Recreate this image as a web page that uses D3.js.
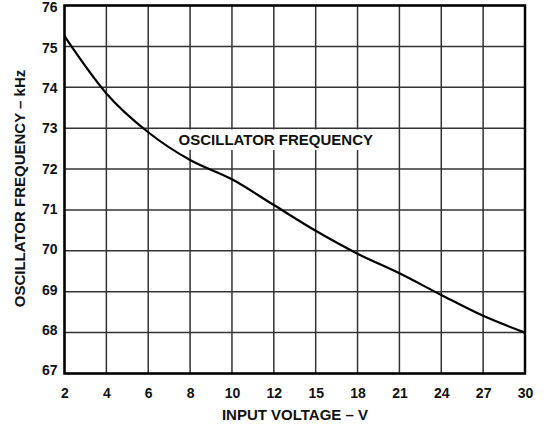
<!DOCTYPE html>
<html>
<head>
<meta charset="utf-8">
<script src="https://cdn.jsdelivr.net/npm/d3@7"></script>
<style>
  body { margin: 0; background: #fff; }
  text { font-family: "Liberation Sans", Arial, sans-serif; font-weight: bold; fill: #111; }
</style>
</head>
<body>
<script>
(function (d3) {
    "use strict";

    /***** Data *****/
    var voltages = ["2", "4", "6", "8", "10", "12", "15", "18", "21", "24", "27", "30"];
    var frequencies = [75.25, 73.85, 72.9, 72.22, 71.75, 71.12, 70.49, 69.93, 69.45, 68.92, 68.41, 68.0];
    var yTicks = [67, 68, 69, 70, 71, 72, 73, 74, 75, 76];

    /***** Configuration *****/
    var width = 547, height = 428;
    var margin = { top: 5.5, right: 22, bottom: 54.5, left: 64.5 };
    var chartWidth = width - margin.left - margin.right;
    var chartHeight = height - margin.top - margin.bottom;

    var xScale = d3.scalePoint().domain(voltages).range([0, chartWidth]);
    var yScale = d3.scaleLinear().domain([67, 76]).range([chartHeight, 0]);
    // tick labels sit slightly off the grid lines in the original
    var yLabelScale = d3.scaleLinear().domain([67, 76]).range([371.5, 8.5]);

    var svg = d3.select("body").append("svg")
        .attr("width", width)
        .attr("height", height);

    var g = svg.append("g")
        .attr("transform", "translate(" + margin.left + "," + margin.top + ")");

    /***** Grid *****/
    g.append("g")
        .selectAll("line")
        .data(voltages)
        .join("line")
        .attr("x1", function (d) { return xScale(d); })
        .attr("x2", function (d) { return xScale(d); })
        .attr("y1", 0)
        .attr("y2", chartHeight)
        .attr("stroke", "#333")
        .attr("stroke-width", 1.5);

    g.append("g")
        .selectAll("line")
        .data(yTicks)
        .join("line")
        .attr("x1", 0)
        .attr("x2", chartWidth)
        .attr("y1", function (d) { return yScale(d); })
        .attr("y2", function (d) { return yScale(d); })
        .attr("stroke", "#333")
        .attr("stroke-width", 1.5);

    /***** Tick labels *****/
    var xAxis = d3.axisBottom(xScale).tickSize(0).tickPadding(0);
    var xg = g.append("g")
        .attr("transform", "translate(0," + chartHeight + ")")
        .call(xAxis);
    xg.select(".domain").remove();
    xg.selectAll("text")
        .attr("y", 24.5)
        .attr("dy", null)
        .style("font-size", "14px")
        .style("font-family", "Liberation Sans, Arial, sans-serif")
        .style("font-weight", "bold")
        .attr("fill", "#111");

    svg.append("g")
        .selectAll("text")
        .data(yTicks)
        .join("text")
        .attr("x", 57.5)
        .attr("y", function (d) { return yLabelScale(d); })
        .attr("text-anchor", "end")
        .attr("dominant-baseline", "middle")
        .style("font-size", "14px")
        .text(function (d) { return d; });

    /***** Curve label box *****/
    g.append("rect")
        .attr("x", 110.5)
        .attr("y", yScale(73) + 1.3)
        .attr("width", 202)
        .attr("height", 20.5)
        .attr("fill", "#fff");
    g.append("text")
        .attr("x", xScale("12") + 2)
        .attr("y", yScale(73) + 16.8)
        .attr("text-anchor", "middle")
        .style("font-size", "15px")
        .text("OSCILLATOR FREQUENCY");

    /***** Curve *****/
    var line = d3.line()
        .x(function (d, i) { return xScale(voltages[i]); })
        .y(function (d) { return yScale(d); })
        .curve(d3.curveMonotoneX);

    g.append("path")
        .datum(frequencies)
        .attr("d", line)
        .attr("fill", "none")
        .attr("stroke", "#000")
        .attr("stroke-width", 2.2);

    /***** Frame *****/
    g.append("rect")
        .attr("x", 0)
        .attr("y", 0)
        .attr("width", chartWidth)
        .attr("height", chartHeight)
        .attr("fill", "none")
        .attr("stroke", "#000")
        .attr("stroke-width", 2.5);

    /***** Titles *****/
    svg.append("text")
        .attr("x", 295)
        .attr("y", 419.5)
        .attr("text-anchor", "middle")
        .style("font-size", "15px")
        .text("INPUT VOLTAGE \u2013 V");

    svg.append("text")
        .attr("transform", "translate(21,188.5) rotate(-90)")
        .attr("text-anchor", "middle")
        .attr("dominant-baseline", "middle")
        .style("font-size", "15px")
        .text("OSCILLATOR FREQUENCY \u2013 kHz");

})(d3);
</script>
</body>
</html>
